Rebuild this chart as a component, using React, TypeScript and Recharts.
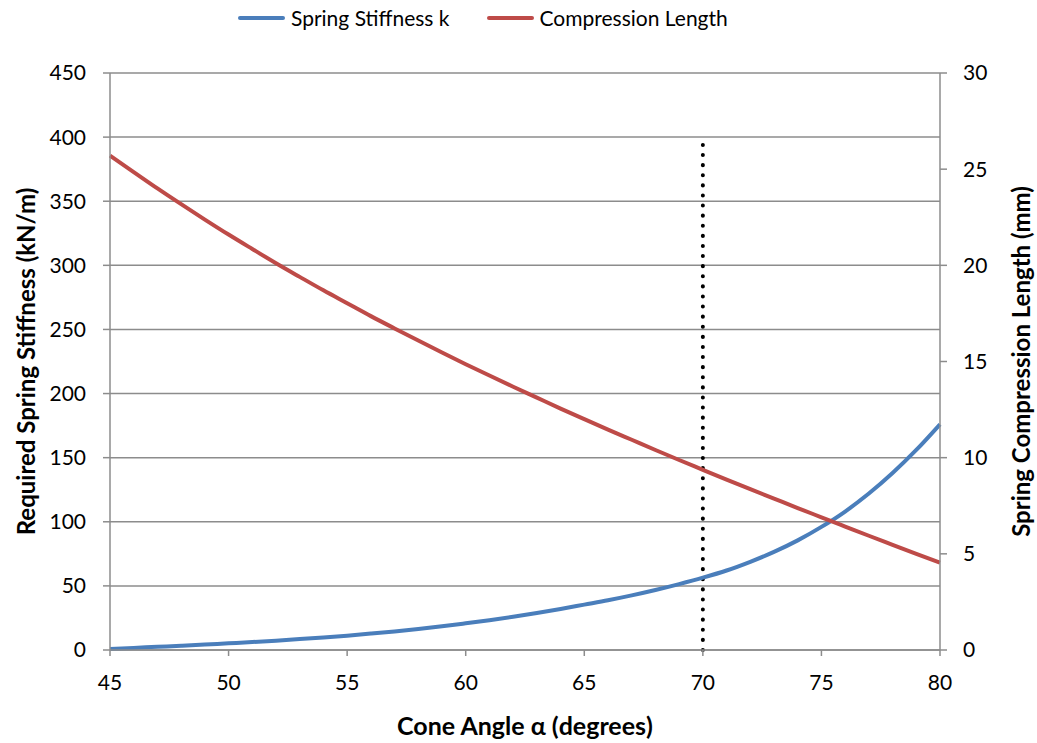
import React from 'react';
import { LineChart, Line, XAxis, YAxis, CartesianGrid, ReferenceLine } from 'recharts';

// cone angle (degrees)
const angles = [
    45, 46, 47, 48, 49, 50, 51, 52, 53, 54, 55, 56, 57, 58, 59, 60, 61, 62,
    63, 64, 65, 66, 67, 68, 69, 70, 71, 72, 73, 74, 75, 76, 77, 78, 79, 80,
];

// required spring stiffness k (kN/m), left axis
const stiffness = [
    0.8, 1.6, 2.5, 3.3, 4.2, 5.2, 6.2, 7.3, 8.5, 9.8, 11.2, 12.8, 14.5, 16.4, 18.5, 20.8, 23.2, 25.9,
    28.8, 32.0, 35.4, 38.8, 42.6, 46.8, 51.4, 56.4, 62.0, 68.8, 76.5, 85.5, 96.0, 108, 122, 138, 156, 176,
];

// spring compression length (mm), right axis
const compression = [
    25.7, 24.85, 24.0, 23.18, 22.38, 21.6, 20.85, 20.11, 19.4, 18.7, 18.03, 17.36, 16.72, 16.09, 15.47, 14.86, 14.27, 13.69,
    13.12, 12.55, 12.0, 11.46, 10.93, 10.4, 9.88, 9.37, 8.86, 8.36, 7.87, 7.38, 6.9, 6.42, 5.94, 5.47, 5.0, 4.54,
];

const xTicks = [45, 50, 55, 60, 65, 70, 75, 80];
const leftTicks = [0, 50, 100, 150, 200, 250, 300, 350, 400, 450];
const rightTicks = [0, 5, 10, 15, 20, 25, 30];

// dotted marker at the chosen angle
const markerAngle = 70;
const markerTop = 394;

const legendItems = [
    { name: 'Spring Stiffness k', color: '#4A7EBB' },
    { name: 'Compression Length', color: '#BE4B48' },
];

const FONT = 'Lato, "Open Sans", sans-serif';
const GRID = '#8c8c8c';

const data = angles.map((a, i) => ({
    angle: a,
    k: stiffness[i],
    len: compression[i],
}));

export default function App() {
    const tickStyle = { fill: '#000', fontSize: 21, fontFamily: FONT };

    // rotated axis title, centred on the axis box
    const axisTitle = (text: string, offsetX: number) => (props: any) => {
        const { viewBox } = props;
        const cy = viewBox.y + viewBox.height / 2;
        const cx = viewBox.x + offsetX;
        return (
            <text
                x={cx}
                y={cy}
                transform={`rotate(-90, ${cx}, ${cy})`}
                textAnchor="middle"
                dominantBaseline="central"
                fontFamily={FONT}
                fontWeight="bold"
                fontSize={24}
                fill="#000"
            >
                {text}
            </text>
        );
    };

    return (
        <div style={{ position: 'absolute', left: 0, top: 0, width: 1037, height: 743, background: '#fff' }}>
            <div
                style={{
                    position: 'absolute',
                    top: 5,
                    left: 238,
                    display: 'flex',
                    gap: 37,
                    fontFamily: FONT,
                    fontSize: 21,
                    color: '#000',
                }}
            >
                {legendItems.map((item) => (
                    <div key={item.name} style={{ display: 'flex', alignItems: 'center' }}>
                        <div style={{ width: 47, height: 4, background: item.color, borderRadius: 2, marginRight: 6 }} />
                        <span>{item.name}</span>
                    </div>
                ))}
            </div>
            <LineChart width={1037} height={743} data={data} margin={{ top: 73, right: 0, bottom: 0, left: 0 }}>
                <CartesianGrid
                    yAxisId="left"
                    vertical={false}
                    stroke={GRID}
                    strokeWidth={1.5}
                />
                <XAxis
                    dataKey="angle"
                    type="number"
                    domain={[45, 80]}
                    ticks={xTicks}
                    height={93}
                    tickSize={6}
                    tickMargin={19}
                    stroke={GRID}
                    strokeWidth={1.5}
                    tick={tickStyle}
                    label={{
                        value: 'Cone Angle α (degrees)',
                        position: 'insideBottom',
                        offset: 8,
                        style: { fontFamily: FONT, fontWeight: 'bold', fontSize: 25, fill: '#000' },
                    }}
                />
                <YAxis
                    yAxisId="left"
                    domain={[0, 450]}
                    ticks={leftTicks}
                    width={110}
                    tickSize={7}
                    tickMargin={17}
                    stroke={GRID}
                    strokeWidth={1.5}
                    tick={tickStyle}
                    label={{ content: axisTitle('Required Spring Stiffness (kN/m)', 25) }}
                />
                <YAxis
                    yAxisId="right"
                    orientation="right"
                    domain={[0, 30]}
                    ticks={rightTicks}
                    width={97}
                    tickSize={7}
                    tickMargin={16}
                    stroke={GRID}
                    strokeWidth={1.5}
                    tick={tickStyle}
                    label={{ content: axisTitle('Spring Compression Length (mm)', 80) }}
                />
                <ReferenceLine
                    yAxisId="left"
                    segment={[
                        { x: markerAngle, y: 0 },
                        { x: markerAngle, y: markerTop },
                    ]}
                    stroke="#000"
                    strokeWidth={4}
                    strokeDasharray="0.1 10"
                    strokeLinecap="round"
                />
                <Line
                    yAxisId="left"
                    type="monotone"
                    dataKey="k"
                    stroke="#4A7EBB"
                    strokeWidth={4}
                    dot={false}
                    isAnimationActive={false}
                />
                <Line
                    yAxisId="right"
                    type="monotone"
                    dataKey="len"
                    stroke="#BE4B48"
                    strokeWidth={4}
                    dot={false}
                    isAnimationActive={false}
                />
            </LineChart>
        </div>
    );
}
